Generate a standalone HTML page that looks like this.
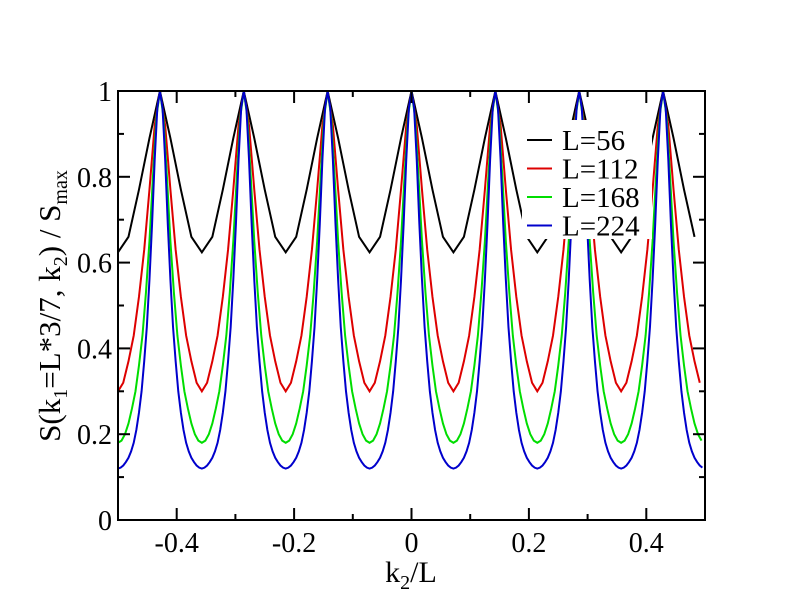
<!DOCTYPE html>
<html><head><meta charset="utf-8"><style>
html,body{margin:0;padding:0;background:#fff;}
svg{display:block;font-family:"Liberation Serif",serif;}
</style></head><body>
<svg id="chart" width="792" height="612" viewBox="0 0 792 612" xmlns="http://www.w3.org/2000/svg">
<defs><clipPath id="plotclip"><rect x="118" y="91" width="587" height="429"/></clipPath></defs>
<g id="series" clip-path="url(#plotclip)"></g>
<rect x="522" y="120" width="130" height="119" fill="#fff"/>
<g id="axes"></g>
<g id="legend"></g>
<text x="411" y="582" font-size="30" text-anchor="middle">k<tspan font-size="20" dy="7">2</tspan><tspan dy="-7">/L</tspan></text>
<text transform="translate(60,306) rotate(-90)" font-size="31" text-anchor="middle">S(k<tspan font-size="20" dy="7">1</tspan><tspan dy="-7">=L*3/7, k</tspan><tspan font-size="20" dy="7">2</tspan><tspan dy="-7">) / S</tspan><tspan font-size="20" dy="7">max</tspan></text>
</svg>
<script>
// Data: one half-period (peak to minimum) profile per series, sampled at k2 = n/L
const seriesNames = ["L=56", "L=112", "L=168", "L=224"];
const seriesL = [56, 112, 168, 224];
const seriesColors = ["#000000", "#dd0000", "#00dd00", "#0000cc"];
const profileL56 = [1, 0.89, 0.77, 0.66, 0.624];
const profileL112 = [1, 0.92, 0.77, 0.63, 0.52, 0.43, 0.37, 0.32, 0.30];
const profileL168 = [1, 0.94, 0.80, 0.65, 0.53, 0.43, 0.36, 0.30, 0.26, 0.225, 0.20, 0.185, 0.18];
const profileL224 = [1, 0.96, 0.84, 0.69, 0.56, 0.45, 0.37, 0.30, 0.25, 0.21, 0.18, 0.16, 0.145, 0.135, 0.127, 0.122, 0.12];
const profiles = [profileL56, profileL112, profileL168, profileL224];
const xTicks = [-0.4, -0.2, 0, 0.2, 0.4];
const xTickLabels = ["-0.4", "-0.2", "0", "0.2", "0.4"];
const yTicks = [0, 0.2, 0.4, 0.6, 0.8, 1];
const yTickLabels = ["0", "0.2", "0.4", "0.6", "0.8", "1"];

const X0 = 118, X1 = 705, Y0 = 520, Y1 = 91;
const xs = v => X0 + (v + 0.5) / 1.0 * (X1 - X0);
const ys = v => Y0 - v * (Y0 - Y1);
const NS = "http://www.w3.org/2000/svg";
function mk(tag, attrs, parent) {
  const e = document.createElementNS(NS, tag);
  for (const k in attrs) e.setAttribute(k, attrs[k]);
  parent.appendChild(e);
  return e;
}
const sg = document.getElementById("series");
profiles.forEach((prof, si) => {
  const L = seriesL[si];
  const half = prof.length - 1;
  const period = 2 * half;
  let pts = [];
  for (let n = -L / 2; n <= L / 2 - 1; n++) {
    let m = ((n % period) + period) % period;
    if (m > half) m = period - m;
    pts.push(xs(n / L).toFixed(2) + "," + ys(prof[m]).toFixed(2));
  }
  const pl = mk("polyline", {points: pts.join(" "), fill: "none", stroke: seriesColors[si], "stroke-width": 2}, sg);
  
  
});

const ag = document.getElementById("axes");
const frame = mk("rect", {x: X0, y: Y1, width: X1 - X0, height: Y0 - Y1, fill: "none", stroke: "#000", "stroke-width": 2}, ag);


for (let i = -5; i <= 5; i++) {
  const v = i / 10, x = xs(v), len = (i % 2 === 0) ? 12 : 6;
  const t1 = mk("line", {x1: x, x2: x, y1: Y0, y2: Y0 - len, stroke: "#000", "stroke-width": 2}, ag);
  
  
  const t2 = mk("line", {x1: x, x2: x, y1: Y1, y2: Y1 + len, stroke: "#000", "stroke-width": 2}, ag);
  
  
}
for (let i = 0; i <= 10; i++) {
  const v = i / 10, y = ys(v), len = (i % 2 === 0) ? 12 : 6;
  const t1 = mk("line", {x1: X0, x2: X0 + len, y1: y, y2: y, stroke: "#000", "stroke-width": 2}, ag);
  
  
  const t2 = mk("line", {x1: X1, x2: X1 - len, y1: y, y2: y, stroke: "#000", "stroke-width": 2}, ag);
  
  
}
xTicks.forEach((v, i) => {
  const t = mk("text", {x: xs(v), y: 552, "font-size": 28, "text-anchor": "middle"}, ag);
  t.textContent = xTickLabels[i];
  
  
});
yTicks.forEach((v, i) => {
  const t = mk("text", {x: 112, y: ys(v) + 10, "font-size": 28, "text-anchor": "end"}, ag);
  t.textContent = yTickLabels[i];
  
  
});
const lg = document.getElementById("legend");
seriesNames.forEach((name, i) => {
  const y = 140 + i * 28.5;
  const ln = mk("line", {x1: 527, x2: 552, y1: y, y2: y, stroke: seriesColors[i], "stroke-width": 2}, lg);
  
  
  const t = mk("text", {x: 562, y: y + 10, "font-size": 29}, lg);
  t.textContent = name;
  
  
});
</script>
</body></html>
